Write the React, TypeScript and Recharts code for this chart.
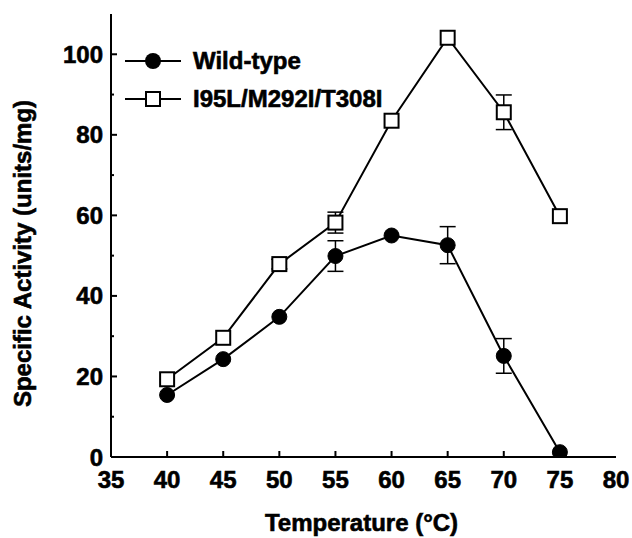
import React from 'react';
import { LineChart, Line, XAxis, YAxis, ErrorBar, Legend } from 'recharts';

const temperatures = [40, 45, 50, 55, 60, 65, 70, 75];
const wildType = [15.4, 24.3, 34.8, 49.9, 55.0, 52.6, 25.1, 1.2];
const wildTypeErr = [0, 0, 0, 3.8, 0, 4.6, 4.3, 0];
const mutant = [19.3, 29.6, 47.9, 58.2, 83.5, 104.1, 85.6, 59.8];
const mutantErr = [0, 0, 1.2, 2.6, 0, 0, 4.3, 0];

const xTicks = [35, 40, 45, 50, 55, 60, 65, 70, 75, 80];
const yTicks = [0, 10, 20, 30, 40, 50, 60, 70, 80, 90, 100];
const yLabelTicks = [0, 20, 40, 60, 80, 100];

const seriesNames = ['Wild-type', 'I95L/M292I/T308I'];

const data = temperatures.map((t, i) => ({
  t,
  wt: wildType[i],
  wtErr: wildTypeErr[i],
  mut: mutant[i],
  mutErr: mutantErr[i],
}));

const FONT = '"Liberation Sans", Arial, Helvetica, sans-serif';
const TEXT_STROKE = 0.6;

const XTick = (props: any) => {
  const { x, y, payload } = props;
  const major = payload.value !== 35 && payload.value !== 80;
  return (
    <g>
      {major && <line x1={x} x2={x} y1={y} y2={y - 6} stroke="#000" strokeWidth={2} />}
      <text x={x} y={y + 31} textAnchor="middle" fontFamily={FONT} fontWeight="bold" fontSize={24} fill="#000" stroke="#000" strokeWidth={TEXT_STROKE}>
        {payload.value}
      </text>
    </g>
  );
};

const YTick = (props: any) => {
  const { x, y, payload } = props;
  const labeled = yLabelTicks.includes(payload.value);
  const len = labeled ? 6 : 3;
  return (
    <g>
      {payload.value !== 0 && <line x1={x} x2={x + len} y1={y} y2={y} stroke="#000" strokeWidth={2} />}
      {labeled && (
        <text x={x - 8} y={y + 8.5} textAnchor="end" fontFamily={FONT} fontWeight="bold" fontSize={24} fill="#000" stroke="#000" strokeWidth={TEXT_STROKE}>
          {payload.value}
        </text>
      )}
    </g>
  );
};

const CircleDot = (props: any) => {
  const { cx, cy, index } = props;
  if (cx == null || cy == null) return <g key={index} />;
  return <circle key={index} cx={cx} cy={cy} r={7.5} fill="#000" stroke="#000" strokeWidth={1} />;
};

const SquareDot = (props: any) => {
  const { cx, cy, index } = props;
  if (cx == null || cy == null) return <g key={index} />;
  return <rect key={index} x={cx - 7} y={cy - 7} width={14} height={14} fill="#fff" stroke="#000" strokeWidth={2} />;
};

const LegendContent = () => (
  <div style={{ fontFamily: FONT, fontWeight: 'bold', fontSize: 24, color: '#000', WebkitTextStroke: `${TEXT_STROKE}px #000` }}>
    {seriesNames.map((name, i) => (
      <div key={name} style={{ display: 'flex', alignItems: 'center', height: 38 }}>
        <svg width={56} height={20} style={{ display: 'block' }}>
          <line x1={0} x2={56} y1={10} y2={10} stroke="#000" strokeWidth={2} />
          {i === 0 ? (
            <circle cx={28} cy={10} r={8} fill="#000" />
          ) : (
            <rect x={21} y={3} width={14} height={14} fill="#fff" stroke="#000" strokeWidth={2} />
          )}
        </svg>
        <span style={{ marginLeft: 12, lineHeight: '24px', whiteSpace: 'nowrap' }}>{name}</span>
      </div>
    ))}
  </div>
);

const YLabel = (props: any) => {
  const vb = props.viewBox || { x: 0, y: 14, width: 111, height: 443 };
  const cx = vb.x + 22;
  const cy = vb.y + vb.height / 2 + 18;
  return (
    <text
      x={cx}
      y={cy}
      transform={`rotate(-90 ${cx} ${cy})`}
      textAnchor="middle"
      dominantBaseline="central"
      fontFamily={FONT}
      fontWeight="bold"
      fontSize={24}
      fill="#000"
      stroke="#000"
      strokeWidth={TEXT_STROKE}
    >
      Specific Activity (units/mg)
    </text>
  );
};

const XLabel = (props: any) => {
  const vb = props.viewBox || { x: 111, y: 457, width: 505, height: 81 };
  const cx = vb.x + vb.width / 2 - 2;
  const cy = vb.y + 74;
  return (
    <text x={cx} y={cy} textAnchor="middle" fontFamily={FONT} fontWeight="bold" fontSize={24} fill="#000" stroke="#000" strokeWidth={TEXT_STROKE}>
      Temperature (°C)
    </text>
  );
};

export default function App() {
  return (
    <div style={{ position: 'absolute', left: 0, top: 0, width: 632, height: 538, background: '#fff' }}>
      <LineChart width={632} height={538} data={data} margin={{ top: 14, right: 16, bottom: 0, left: 0 }}>
        <XAxis
          xAxisId="main"
          type="number"
          dataKey="t"
          domain={[35, 80]}
          ticks={xTicks}
          interval={0}
          height={81}
          tickSize={0}
          tickMargin={0}
          tickLine={false}
          tick={<XTick />}
          axisLine={{ stroke: '#000', strokeWidth: 2 }}
          allowDataOverflow
          label={{ content: (p: any) => <XLabel {...p} /> }}
        />
        <XAxis
          xAxisId="top"
          orientation="top"
          type="number"
          domain={[35, 80]}
          height={0}
          tick={false}
          tickLine={false}
          axisLine={{ stroke: '#000', strokeWidth: 2 }}
        />
        <YAxis
          yAxisId="main"
          type="number"
          domain={[0, 110]}
          ticks={yTicks}
          interval={0}
          width={111}
          tickSize={0}
          tickMargin={0}
          tickLine={false}
          tick={<YTick />}
          axisLine={{ stroke: '#000', strokeWidth: 2 }}
          allowDataOverflow
          label={{ content: (p: any) => <YLabel {...p} /> }}
        />
        <YAxis
          yAxisId="right"
          orientation="right"
          type="number"
          domain={[0, 110]}
          width={0}
          tick={false}
          tickLine={false}
          axisLine={{ stroke: '#000', strokeWidth: 2 }}
        />
        <Legend
          layout="vertical"
          align="center"
          verticalAlign="middle"
          wrapperStyle={{ left: 125, top: 42, width: 'auto' }}
          content={() => <LegendContent />}
        />
        <Line
          xAxisId="main"
          yAxisId="main"
          dataKey="wt"
          name={seriesNames[0]}
          stroke="#000"
          strokeWidth={2}
          dot={(p: any) => <CircleDot {...p} />}
          activeDot={false}
          isAnimationActive={false}
        >
          <ErrorBar dataKey="wtErr" width={8} stroke="#000" strokeWidth={1.5} direction="y" />
        </Line>
        <Line
          xAxisId="main"
          yAxisId="main"
          dataKey="mut"
          name={seriesNames[1]}
          stroke="#000"
          strokeWidth={2}
          dot={(p: any) => <SquareDot {...p} />}
          activeDot={false}
          isAnimationActive={false}
        >
          <ErrorBar dataKey="mutErr" width={8} stroke="#000" strokeWidth={1.5} direction="y" />
        </Line>
      </LineChart>
    </div>
  );
}
